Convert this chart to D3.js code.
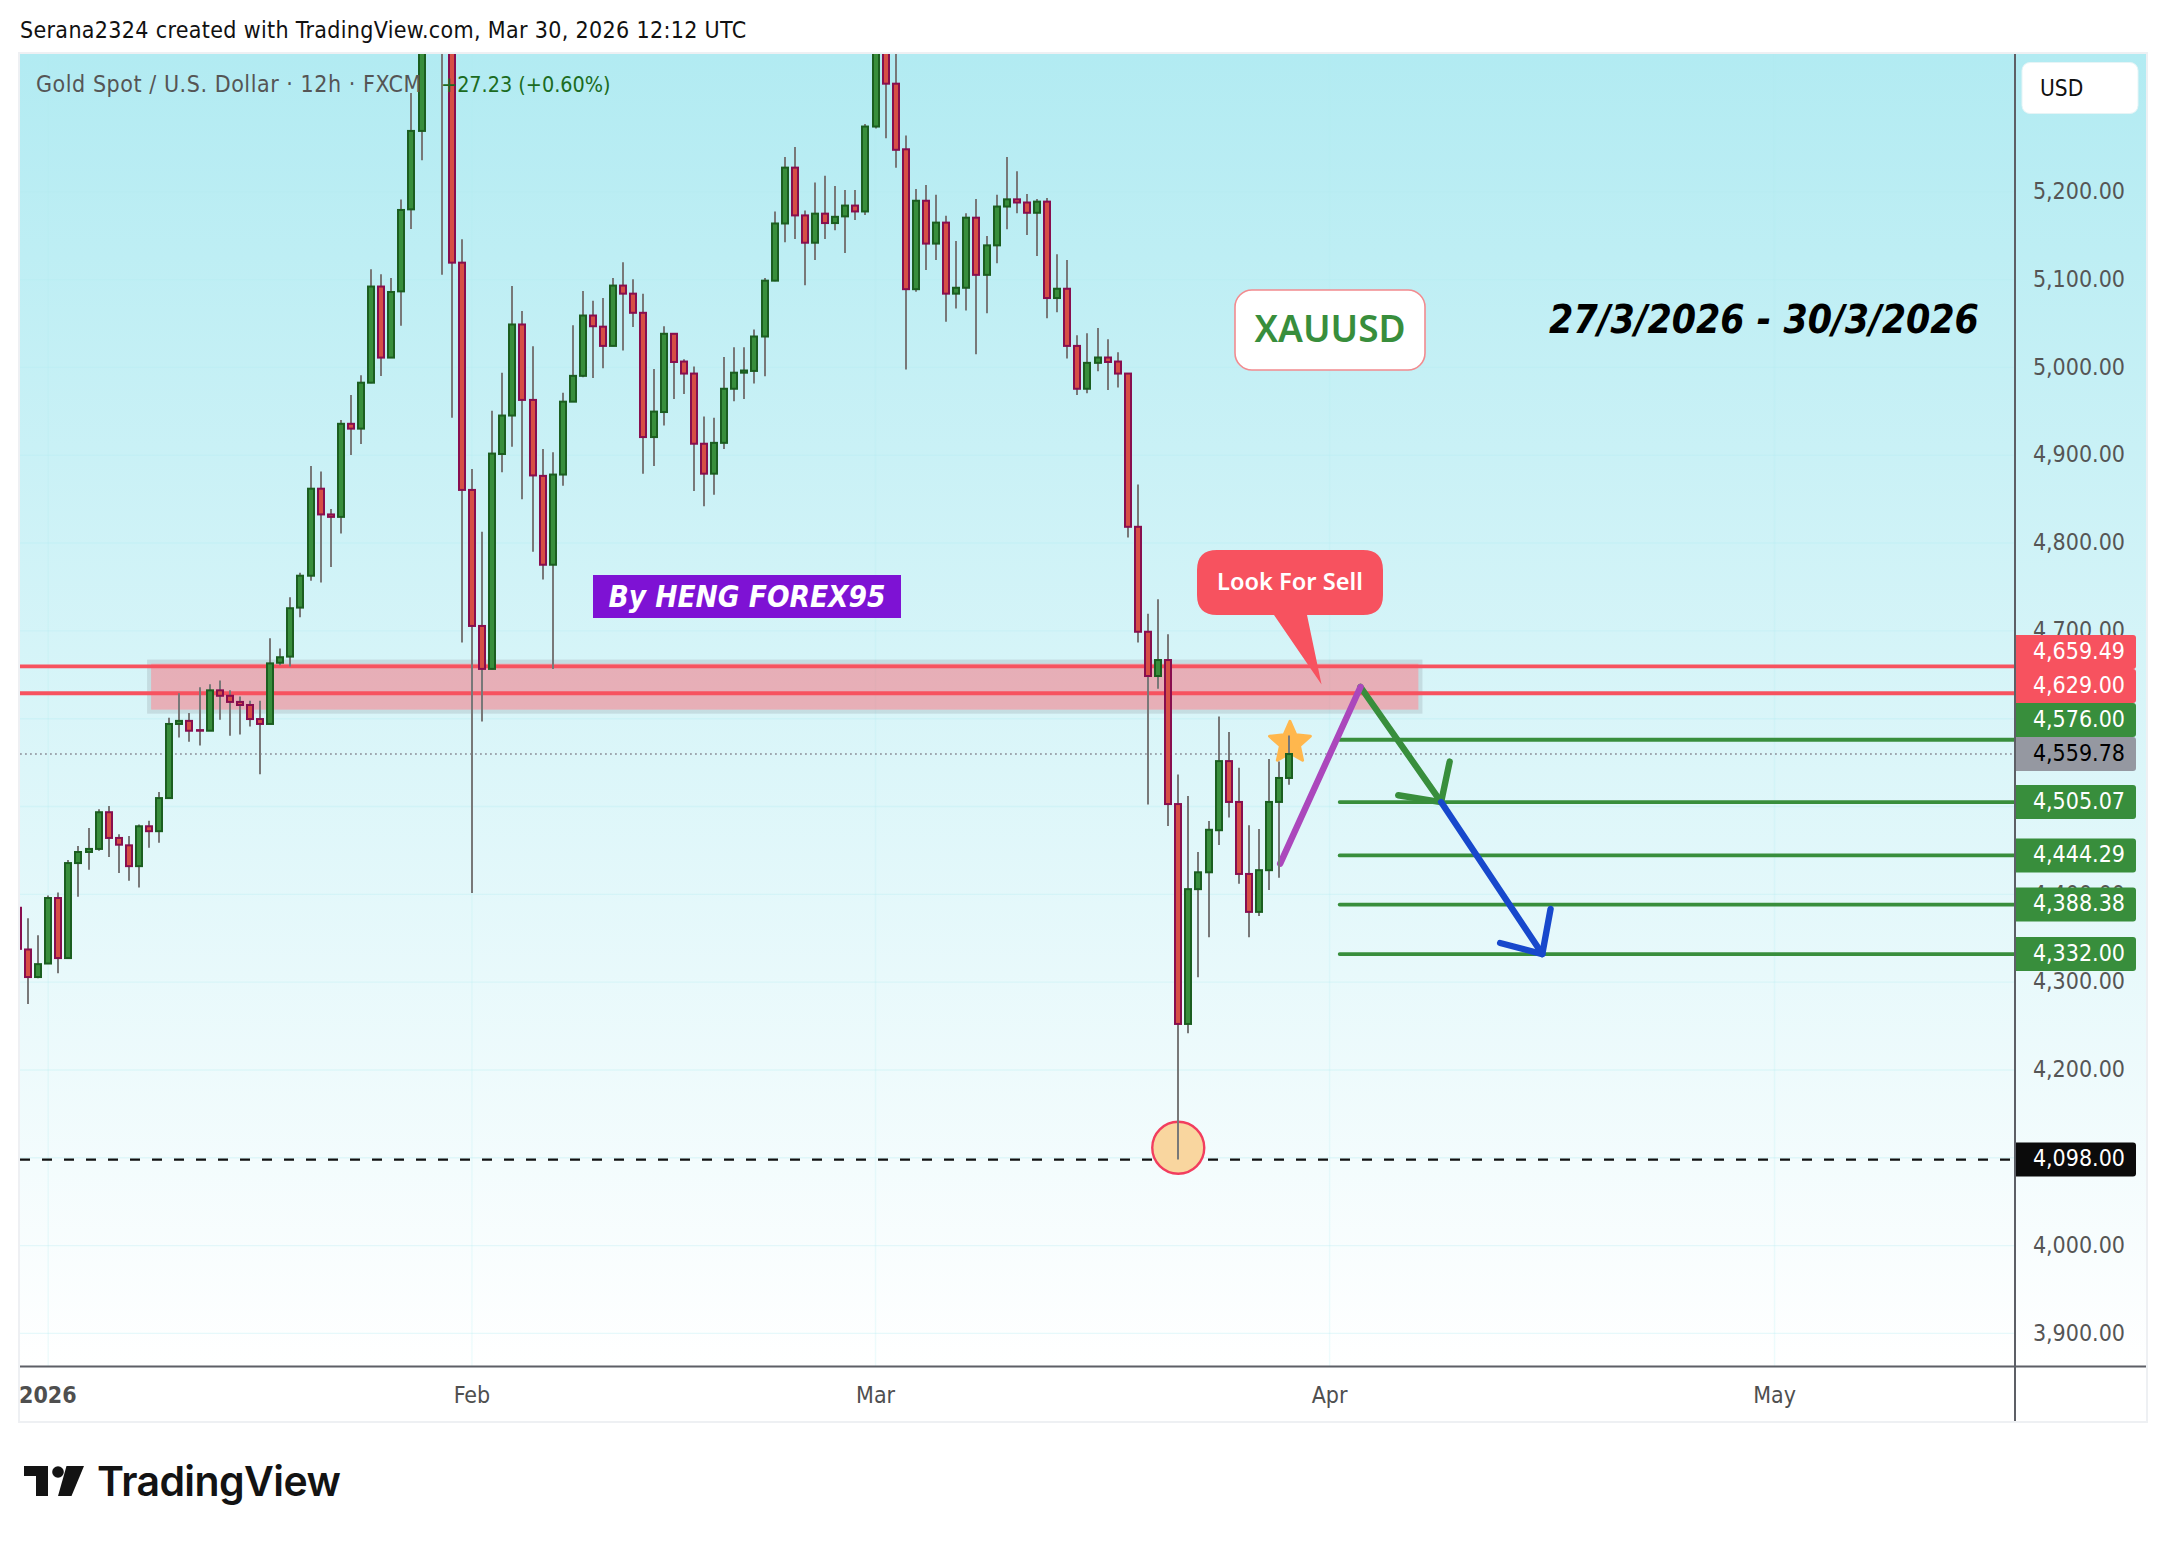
<!DOCTYPE html>
<html><head><meta charset="utf-8">
<script src="https://cdnjs.cloudflare.com/ajax/libs/d3/7.8.5/d3.min.js"></script>
<style>html,body{margin:0;padding:0;background:#fff}svg{display:block}
text{font-family:"DejaVu Sans Condensed","DejaVu Sans",sans-serif;font-stretch:condensed}</style>
</head><body><svg id="c" width="2166" height="1542"></svg>
<script>
// bar -1 (clipped at the left edge) onward; 12h candles
const opens=[4384.7,4337.2,4305.8,4321.2,4395.8,4327.4,4435.6,4448.2,4451.7,4493.5,4464.2,4455.8,4432.1,4477.5,4471.9,4509.6,4594,4597.5,4587,4586.3,4632.3,4626.1,4619.1,4615.6,4599.6,4594,4663.7,4670.7,4726.5,4762.8,4861.9,4832.6,4829.8,4935.8,4930.3,4982.6,5092.1,5011.2,5086.6,5180,5269.3,5400,5500,5420,5119.3,4860.5,4705.6,4656.7,4901.4,4945.2,5048.9,4963,4876.5,4775.3,4878,4961,4990.4,5059.1,5046.4,5024.5,5093.2,5084,5062.2,4920.7,4949.2,5038.3,5006.7,4993,4913.1,4879,4914.1,4975.7,4994,4996,5035.2,5098.8,5163.9,5227.5,5173.1,5142,5175.1,5164.4,5172,5184.3,5177.6,5274.3,5400,5323.1,5248.4,5089.1,5189.8,5141,5164.9,5084,5090.7,5170.5,5105.4,5139,5183.2,5191.4,5187.8,5176.1,5188.8,5079,5089.6,5024.5,4975.7,5005.2,5011.3,5006.7,4993,4818.5,4699,4648.6,4666.8,4502.8,4252.4,4405.9,4425.1,4473,4551.7,4505.2,4423.2,4380,4427.5,4505.2,4532.5];
const highs=[4400,4372.8,4353.3,4398.6,4402.1,4439.1,4455.1,4475.4,4497,4500.5,4468.4,4466.3,4479.6,4483.7,4516.5,4601,4628.9,4606.5,4635.8,4639.3,4643.5,4632.3,4625.4,4620.5,4620.5,4691.6,4679.8,4738.4,4766.3,4887.7,4881.4,4838.9,4940,4968.6,4991,5111.7,5106.1,5101.9,5191.2,5312.6,5440,5480,5590,5500,5145.9,4884.2,4812.9,4950.8,4994,5092.7,5064.2,5024,4907,4903.4,4971.1,5048,5087.1,5075.9,5079,5101.8,5119.7,5100.3,5084,4998.1,5046.9,5038.3,5009.3,5001.1,4944.1,4942.6,5011.8,5023,5023,5043.3,5101.8,5177.6,5239.7,5250.9,5178.7,5210.7,5218.3,5206.6,5202,5202,5277.3,5420,5420,5370,5264.1,5203.1,5207.7,5196.5,5172.6,5144.1,5175.6,5191.9,5149.7,5196.5,5239.7,5223.4,5197.5,5191.9,5192.9,5128.8,5122.2,5036.7,5038.8,5044.9,5032.1,5017.4,4993,4866.8,4719.6,4735.9,4696.1,4536.4,4511.9,4448.1,4483.6,4602.5,4584.8,4544,4478.8,4474.5,4554.1,4551.2,4581];
const lows=[4320,4275,4304.4,4321,4310,4327,4397.2,4427.9,4449.6,4442.6,4424.4,4415.4,4407.7,4453,4458.6,4509,4578.6,4573.7,4569.6,4586,4598.9,4580.7,4582,4591.2,4536.8,4594,4661,4659.5,4715.4,4757.2,4755.1,4772.6,4811,4900.3,4912.8,4982,4990.3,5011,5047.5,5157.7,5235.9,5370,5105.4,4942.8,4686.8,4401.4,4596.7,4656,4880.6,4909.6,4850,4790,4758.5,4656.7,4865.3,4961,4988.9,4987.9,4999,5024,5019.4,5045.9,4879,4887.7,4934,4964,4969.6,4859.2,4841.9,4855.1,4907,4961.4,4964,4981.8,4989.9,5098,5142.5,5146.1,5093.7,5122.2,5146.1,5156.3,5130.3,5168,5173.6,5272,5261.1,5227.5,4997.6,5086.1,5111,5122.2,5052,5067.2,5064.7,5014.9,5061.7,5118.6,5157.3,5175.6,5150.7,5126.8,5056.1,5062.7,5010.3,4968.6,4970.6,4995.5,4974.2,4977.2,4806.3,4686.7,4502.3,4634.2,4477.9,4098,4241.9,4305.7,4351.2,4456.3,4487.4,4412.1,4351.2,4375.2,4404.9,4418.9,4524.9];
const closes=[4337.9,4305.8,4320.5,4395.8,4327.4,4435.6,4448.2,4451.7,4493.5,4464.2,4456.5,4432.1,4477.5,4471.9,4509.6,4594,4597.5,4586.3,4586.3,4632.3,4626.1,4619.1,4615.6,4599.6,4594,4663,4670,4725.8,4762.8,4861.9,4832.6,4829.8,4935.8,4930.3,4982.6,5092.1,5011.2,5085.9,5179.3,5269.3,5400,5450,5420,5119.3,4860.5,4705.6,4656.7,4901.9,4945.2,5048.9,4963,4877,4775.3,4878,4961,4990.4,5059.1,5046.9,5024.5,5093.2,5084,5062.2,4920.7,4949.7,5038.3,5006.2,4993,4913.1,4879,4914.1,4975.7,4994,4996.5,5035.2,5098.8,5163.9,5227.5,5173.1,5142,5175.1,5164.4,5171.5,5184.3,5177.6,5274.3,5400,5323.1,5247.8,5089.1,5189.8,5141,5164.9,5084,5090.7,5170.5,5105.4,5139,5183.2,5191.4,5187.8,5176.1,5188.8,5079,5089.6,5024.5,4975.7,5005.2,5011.3,5006.2,4993,4818.5,4699,4648.6,4666.8,4502.8,4252.4,4405.9,4425.1,4473.5,4551.7,4505.2,4423.2,4380,4427.5,4505.2,4532.5,4559.78];

const priceTicks=[3900,4000,4100,4200,4300,4400,4500,4600,4700,4800,4900,5000,5100,5200];
const monthLabels=["2026","Feb","Mar","Apr","May"];
const monthBars=[2,44,84,129,173.1];
const zoneBars=[12,138], zonePrices=[4665,4608];
const redLevels=[4659.49,4629];
const greenLevels=[4576,4505.07,4444.29,4388.38,4332];
const lastPrice=4559.78, lowLevel=4098;
const greenStartBar=130;
const purplePath=[[124.1,4435],[132.06,4636.1]];
const greenPath=[[132.06,4636.1],[140.05,4505.07]];
const greenWings=[[135.8,4512.8],[140.05,4505.07],[140.9,4551.2]];
const bluePath=[[140.05,4505.07],[150.08,4332]];
const blueWings=[[145.9,4344.6],[150.08,4332],[150.9,4383.4]];
const starPoint=[125.07,4572.5], lowCircle=[114,4111.4], calloutTip=[128.2,4639];

const L=20,R=2015,RR=2146,T=54,B=1366,F=1421;
const x=d3.scaleLinear().domain([0,125]).range([28,1289.25]);
const y=d3.scaleLinear().domain([3862.9,5356.9]).range([B,T]);
const svg=d3.select("#c");
const defs=svg.append("defs");
const g=defs.append("linearGradient").attr("id","bg").attr("gradientUnits","userSpaceOnUse").attr("x1",0).attr("x2",0).attr("y1",T).attr("y2",B);
g.append("stop").attr("offset",0).attr("stop-color","#b2ebf2");
g.append("stop").attr("offset",1).attr("stop-color","#ffffff");
defs.append("clipPath").attr("id","plot").append("rect").attr("x",L).attr("y",T).attr("width",R-L).attr("height",B-T);

svg.append("rect").attr("x",L).attr("y",T).attr("width",RR-L).attr("height",B-T).attr("fill","url(#bg)");
svg.append("rect").attr("x",L-1).attr("y",T-1).attr("width",RR-L+2).attr("height",F-T+2).attr("fill","none").attr("stroke","#eef0f3").attr("stroke-width",2);

const plot=svg.append("g").attr("clip-path","url(#plot)");
plot.selectAll("line.gh").data(priceTicks).join("line").attr("class","gh").attr("x1",L).attr("x2",R).attr("y1",d=>y(d)).attr("y2",d=>y(d)).attr("stroke","#b2ebf2").attr("stroke-opacity",.3).attr("stroke-width",1.4);
plot.selectAll("line.gv").data(monthBars).join("line").attr("class","gv").attr("x1",d=>x(d)).attr("x2",d=>x(d)).attr("y1",T).attr("y2",B).attr("stroke","#b2ebf2").attr("stroke-opacity",.22).attr("stroke-width",1.4);

// zone: translucent fill with a separate pale border around it
plot.append("rect").attr("x",x(zoneBars[0])+2).attr("width",x(zoneBars[1])-x(zoneBars[0])-4).attr("y",y(zonePrices[0])+2).attr("height",y(zonePrices[1])-y(zonePrices[0])-4)
 .attr("fill","rgba(255,70,85,.4)");
plot.append("rect").attr("x",x(zoneBars[0])).attr("width",x(zoneBars[1])-x(zoneBars[0])).attr("y",y(zonePrices[0])).attr("height",y(zonePrices[1])-y(zonePrices[0]))
 .attr("fill","none").attr("stroke","rgba(120,123,134,.2)").attr("stroke-width",4);
// levels
plot.selectAll("line.r").data(redLevels).join("line").attr("class","r").attr("x1",L).attr("x2",R).attr("y1",d=>y(d)).attr("y2",d=>y(d)).attr("stroke","#f7525f").attr("stroke-width",3.8);
plot.selectAll("line.gr").data(greenLevels).join("line").attr("class","gr").attr("x1",x(greenStartBar)).attr("x2",R).attr("y1",d=>y(d)).attr("y2",d=>y(d)).attr("stroke","#388e3c").attr("stroke-width",3.8).attr("stroke-linecap","round");
plot.append("line").attr("x1",L).attr("x2",R).attr("y1",y(lastPrice)).attr("y2",y(lastPrice)).attr("stroke","#8a8d96").attr("stroke-width",1.6).attr("stroke-dasharray","1.8 3.2");
plot.append("line").attr("x1",L).attr("x2",R).attr("y1",y(lowLevel)).attr("y2",y(lowLevel)).attr("stroke","#111").attr("stroke-width",2.2).attr("stroke-dasharray","10 12");
// drawings
const ln=d3.line().x(d=>x(d[0])).y(d=>y(d[1]));
function stroke(path,col,w){plot.append("path").attr("d",ln(path)).attr("fill","none").attr("stroke",col).attr("stroke-width",w).attr("stroke-linecap","round").attr("stroke-linejoin","round");}
stroke(greenPath,"#388e3c",6.4);stroke(greenWings,"#388e3c",6.4);
stroke(bluePath,"#1848cc",6.4);stroke(blueWings,"#1848cc",6.4);
stroke(purplePath,"#ab47bc",6.4);
// star
const star=d3.range(10).map(i=>{const r=i%2?10:21.5,a=-Math.PI/2+i*Math.PI/5;return [Math.cos(a)*r,Math.sin(a)*r];});
plot.append("path").attr("d",d3.line().curve(d3.curveLinearClosed)(star)).attr("transform",`translate(${x(starPoint[0])},${y(starPoint[1])})`).attr("fill","#ffb74d").attr("stroke","#ffb74d").attr("stroke-width",3).attr("stroke-linejoin","round");
plot.append("circle").attr("cx",x(lowCircle[0])).attr("cy",y(lowCircle[1])).attr("r",26).attr("fill","#f9d69f").attr("stroke","#f23d5e").attr("stroke-width",2.4);

// candles
const up="#388e3c",upB="#1b5e20",dn="#d64f45",dnB="#880e4f",wick="#787878";
const bars=opens.map((o,k)=>({i:k-1,o,h:highs[k],l:lows[k],c:closes[k]}));
const cg=plot.selectAll("g.c").data(bars).join("g").attr("class","c");
cg.append("line").attr("x1",d=>Math.round(x(d.i))).attr("x2",d=>Math.round(x(d.i))).attr("y1",d=>y(d.h)).attr("y2",d=>y(d.l)).attr("stroke",wick).attr("stroke-width",2);
cg.append("rect").attr("x",d=>Math.round(x(d.i))-3).attr("width",6)
 .attr("y",d=>y(Math.max(d.o,d.c))).attr("height",d=>Math.max(.6,Math.abs(y(d.o)-y(d.c))))
 .attr("fill",d=>d.c>=d.o?up:dn).attr("stroke",d=>d.c>=d.o?upB:dnB).attr("stroke-width",2);

// axes lines
svg.append("line").attr("x1",R).attr("x2",R).attr("y1",T).attr("y2",F).attr("stroke","#5d5f66").attr("stroke-width",2);
svg.append("line").attr("x1",L).attr("x2",RR).attr("y1",B+.5).attr("y2",B+.5).attr("stroke","#5d5f66").attr("stroke-width",2);

// right axis
const fmt=d3.format(",.2f");
const yAxis=d3.axisRight(y).tickValues(priceTicks).tickFormat(fmt).tickSize(0).tickPadding(0);
const ya=svg.append("g").attr("transform",`translate(${2125},0)`).call(yAxis);
ya.select(".domain").remove();
ya.selectAll("text").attr("text-anchor","end").attr("x",0).attr("dy",".29em").attr("font-size",23).attr("fill","#555");

// bottom axis
svg.selectAll("text.m").data(monthLabels).join("text").attr("class","m")
 .attr("x",(d,i)=>i?x(monthBars[i]):L-1).attr("y",1403).attr("text-anchor",(d,i)=>i?"middle":"start")
 .attr("font-size",23).attr("font-weight",(d,i)=>i?400:700).attr("fill","#4f4f4f").text(d=>d);

// price tags: the last-price tag stays put, the ones above it stack upward
const tags=[
 {v:4659.49,bg:"#f7525f",fg:"#fff"},{v:4629,bg:"#f7525f",fg:"#fff"},{v:4576,bg:"#388e3c",fg:"#fff"},
 {v:lastPrice,bg:"#9598a1",fg:"#000"},{v:4505.07,bg:"#388e3c",fg:"#fff"},{v:4444.29,bg:"#388e3c",fg:"#fff"},
 {v:4388.38,bg:"#388e3c",fg:"#fff"},{v:4332,bg:"#388e3c",fg:"#fff"},{v:lowLevel,bg:"#0b0b0b",fg:"#fff"}];
const H=34;
tags.forEach(t=>{t.cy=y(t.v);});
const idx=tags.findIndex(t=>t.v===lastPrice);
for(let i=idx-1;i>=0;i--){tags[i].cy=Math.min(y(tags[i].v),tags[i+1].cy-H);}
const tg=svg.selectAll("g.t").data(tags).join("g").attr("class","t");
tg.append("path").attr("d",d=>{const t=d.cy-H/2,l=R+1,r=2136;return `M${l},${t}H${r-3}Q${r},${t} ${r},${t+3}V${t+H-3}Q${r},${t+H} ${r-3},${t+H}H${l}Z`;}).attr("fill",d=>d.bg);
tg.append("text").attr("x",2125).attr("y",d=>d.cy).attr("dy",".29em").attr("text-anchor","end").attr("font-size",23).attr("fill",d=>d.fg).text(d=>fmt(d.v));

// USD box
svg.append("rect").attr("x",2022).attr("y",62.5).attr("width",116).attr("height",51).attr("rx",8).attr("fill","#fff").attr("stroke","#e6f4f6");
svg.append("text").attr("x",2040).attr("y",96).attr("font-size",22.5).attr("fill","#111").text("USD");

// header and legend
svg.append("text").attr("x",20).attr("y",38).attr("font-size",23).attr("fill","#111").style("letter-spacing","0.33px").text("Serana2324 created with TradingView.com, Mar 30, 2026 12:12 UTC");
svg.append("text").attr("x",36).attr("y",92).attr("font-size",23).attr("fill","#555").style("letter-spacing","0.55px").text("Gold Spot / U.S. Dollar · 12h · FXCM");
svg.append("text").attr("x",441).attr("y",92).attr("font-size",21.4).attr("fill","#1b6b21").text("+27.23 (+0.60%)");

// text notes
svg.append("rect").attr("x",1235).attr("y",290).attr("width",190).attr("height",80).attr("rx",17).attr("fill","#fff").attr("stroke","#f28b8f").attr("stroke-width",1.6);
svg.append("text").attr("x",1330).attr("y",342).attr("text-anchor","middle").attr("font-size",37).attr("font-weight",600).attr("fill","#388e3c").style("font-family","'Noto Sans'").text("XAUUSD");
svg.append("text").attr("x",1764).attr("y",333).attr("text-anchor","middle").attr("font-size",38.8).attr("font-weight",700).attr("font-style","italic").attr("fill","#000").text("27/3/2026 - 30/3/2026");
svg.append("rect").attr("x",593).attr("y",575).attr("width",308).attr("height",43).attr("fill","#7e12d4");
svg.append("text").attr("x",747).attr("y",607).attr("text-anchor","middle").attr("font-size",29.5).attr("font-weight",700).attr("font-style","italic").attr("fill","#fff").text("By HENG FOREX95");
// callout
const tipX=x(calloutTip[0]),tipY=y(calloutTip[1]);
svg.append("path").attr("d",`M1217,550H1363Q1383,550 1383,570V595Q1383,615 1363,615H1307L${tipX},${tipY}L1274,615H1217Q1197,615 1197,595V570Q1197,550 1217,550Z`).attr("fill","#f7525f");
svg.append("text").attr("x",1290).attr("y",590).attr("text-anchor","middle").attr("font-size",23.6).attr("font-weight",600).attr("fill","#fff").style("font-family","'Noto Sans'").text("Look For Sell");

// logo
const lg=svg.append("g").attr("fill","#131313");
lg.append("path").attr("d","M24,1466H48V1496H36V1476H24Z");
lg.append("circle").attr("cx",58).attr("cy",1472).attr("r",5.8);
lg.append("path").attr("d","M66.5,1466H84L71.5,1496H58Z");
svg.append("text").attr("x",97).attr("y",1496).attr("font-size",41).attr("font-weight",600).attr("fill","#131313").style("font-family","Inter").style("letter-spacing","-0.6px").text("TradingView");
</script></body></html>
